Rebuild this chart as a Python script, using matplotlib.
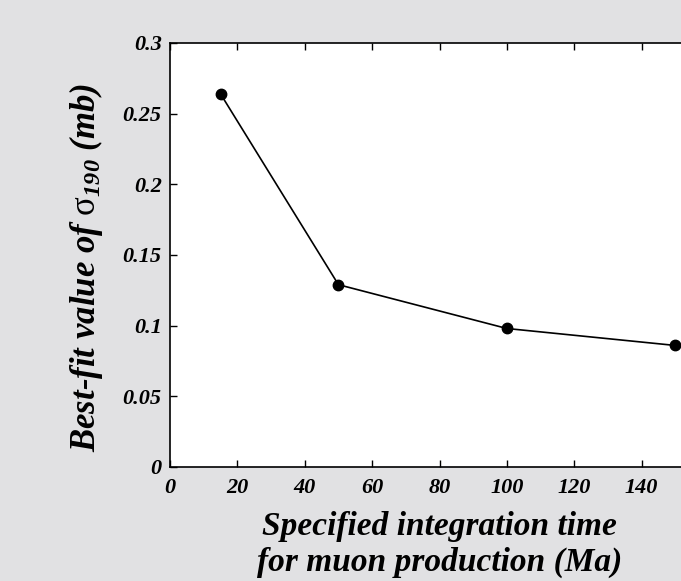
import numpy as np
import matplotlib
matplotlib.use("Agg")
import matplotlib.pyplot as plt

# values
time_ma = [15, 50, 100, 150]
sigma_mb = [0.264, 0.129, 0.098, 0.086]
xticks = [0, 20, 40, 60, 80, 100, 120, 140]
yticks = [0, 0.05, 0.1, 0.15, 0.2, 0.25, 0.3]
ytick_labels = ['0', '0.05', '0.1', '0.15', '0.2', '0.25', '0.3']

plt.rcParams['font.family'] = 'Liberation Serif'
plt.rcParams['mathtext.fontset'] = 'custom'
plt.rcParams['mathtext.rm'] = 'Liberation Serif'
plt.rcParams['mathtext.bf'] = 'Liberation Serif:bold:italic'
plt.rcParams['mathtext.it'] = 'Liberation Serif:italic'

bg = '#e1e1e3'
fig = plt.figure(figsize=(6.81, 5.81), dpi=100, facecolor=bg)
ax = fig.add_axes([170 / 681, 114 / 581, 539 / 681, 424 / 581])
ax.set_facecolor('white')

ax.plot(time_ma, sigma_mb, color='black', lw=1.2, marker='o', ms=7.5,
        clip_on=False, zorder=3)

ax.set_xlim(0, 160)
ax.set_ylim(0, 0.3)
ax.set_xticks(xticks)
ax.set_yticks(yticks)
ax.set_yticklabels(ytick_labels)
ax.tick_params(direction='in', top=True, right=False, length=5, width=1,
               labelsize=16)
ax.tick_params(axis='x', pad=8)
ax.tick_params(axis='y', pad=6)
for lab in ax.get_xticklabels() + ax.get_yticklabels():
    lab.set_fontweight('bold')
    lab.set_fontstyle('italic')
for sp in ax.spines.values():
    sp.set_linewidth(1.2)

ax.set_xlabel('Specified integration time\nfor muon production (Ma)',
              fontsize=24, fontweight='bold', fontstyle='italic',
              linespacing=1.2, labelpad=9)
ax.set_ylabel(r'Best-fit value of $\mathrm{\sigma}_{\mathbf{190}}$ (mb)',
              fontsize=25, fontweight='bold', fontstyle='italic')
ax.yaxis.set_label_coords(-0.12, 0.47)

fig.savefig('out.png', dpi=100, facecolor=bg)
